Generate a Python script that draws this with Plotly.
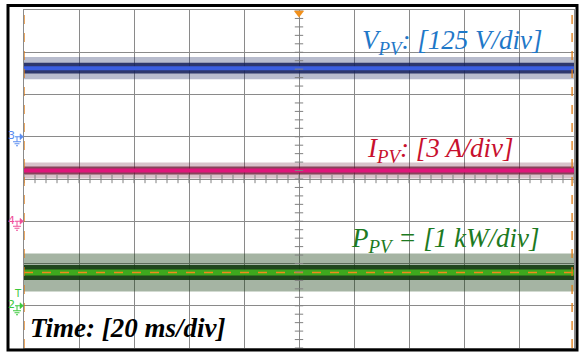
import plotly.graph_objects as go

# ---------------- data ----------------
t_span_ms = [0, 200]          # 10 div x 20 ms/div
ms_per_div = 20
n_ydiv = 8

channels = ["V_PV", "I_PV", "P_PV"]
ch_numbers = ["3", "4", "2"]
scales = [125, 3, 1]              # units per division
units = ["V", "A", "kW"]
offsets_div = [1, -1, -3]         # ground-marker positions (div)
levels = [203, 3.60, 0.787]       # mean values
dense_noise = [16, 0.28, 0.18]    # dense ripple half-width
peak_noise = [33, 0.57, 0.45]     # spike half-width

line_colors = ["#3a5ee0", "#e0157a", "#3ea81e"]
line_widths = [4, 4, 6]
noise_rgba_dense = ["rgba(20,32,90,0.85)", "rgba(100,12,44,0.70)", "rgba(18,58,14,0.90)"]
noise_rgba_peak = ["rgba(20,32,90,0.30)", "rgba(100,12,44,0.25)", "rgba(18,58,14,0.38)"]
text_colors = ["#1f78c8", "#c8102e", "#1d7a22"]
marker_colors = ["#5a8cf0", "#f0509a", "#3cc83c"]

labels = ["<i>V<sub>PV</sub>: [125 V/div]</i>",
          "<i>I<sub>PV</sub>: [3 A/div]</i>",
          "<i>P<sub>PV</sub> = [1 kW/div]</i>"]
label_x_ms = [189.5, 179.0, 188.5]
label_y_div = [3.24, 0.68, -1.45]

time_label = "<b><i>Time: [20 ms/div]</i></b>"

# ---------------- figure ----------------
W, H = 580, 360
ml, mr, mt, mb = 24, 6, 10, 12
pw, ph = W - ml - mr, H - mt - mb
px_per_div_y = ph / n_ydiv

def paper_x(px):
    return (px - ml) / pw

def paper_y(py):
    return (H - mb - py) / ph

fig = go.Figure()

for i, name in enumerate(channels):
    yc = offsets_div[i] + levels[i] / scales[i]
    pk = peak_noise[i] / scales[i]
    dn = dense_noise[i] / scales[i]
    # spike envelope
    fig.add_trace(go.Scatter(x=t_span_ms, y=[yc - pk] * 2, mode="lines",
                             line=dict(width=0), showlegend=False, hoverinfo="skip"))
    fig.add_trace(go.Scatter(x=t_span_ms, y=[yc + pk] * 2, mode="lines",
                             line=dict(width=0), fill="tonexty",
                             fillcolor=noise_rgba_peak[i],
                             showlegend=False, hoverinfo="skip"))
    # dense ripple
    fig.add_trace(go.Scatter(x=t_span_ms, y=[yc - dn] * 2, mode="lines",
                             line=dict(width=0), showlegend=False, hoverinfo="skip"))
    fig.add_trace(go.Scatter(x=t_span_ms, y=[yc + dn] * 2, mode="lines",
                             line=dict(width=0), fill="tonexty",
                             fillcolor=noise_rgba_dense[i],
                             showlegend=False, hoverinfo="skip"))
    # mean trace
    fig.add_trace(go.Scatter(x=t_span_ms, y=[yc] * 2, mode="lines",
                             line=dict(color=line_colors[i], width=line_widths[i]),
                             name=name, showlegend=False, hoverinfo="skip"))
    if name == "P_PV":
        fig.add_trace(go.Scatter(x=t_span_ms, y=[yc] * 2, mode="lines",
                                 line=dict(color="#f08a1c", width=1.5, dash="dash"),
                                 showlegend=False, hoverinfo="skip"))
    fig.add_annotation(x=label_x_ms[i], y=label_y_div[i], text=labels[i],
                       xanchor="right", yanchor="middle", showarrow=False,
                       font=dict(family="Liberation Serif", size=27, color=text_colors[i]))

# centre-axis minor ticks
minor_x = [k * ms_per_div / 5 for k in range(0, 51)]
fig.add_trace(go.Scatter(x=minor_x, y=[0] * len(minor_x), mode="markers",
                         marker=dict(symbol="line-ns", size=6,
                                     line=dict(color="#808080", width=1)),
                         showlegend=False, hoverinfo="skip"))
minor_y = [-4 + k / 5 for k in range(0, 41)]
fig.add_trace(go.Scatter(x=[100] * len(minor_y), y=minor_y, mode="markers",
                         marker=dict(symbol="line-ew", size=6,
                                     line=dict(color="#808080", width=1)),
                         showlegend=False, hoverinfo="skip"))

# cursors
for xc in [0, 199.3]:
    fig.add_trace(go.Scatter(x=[xc, xc], y=[-4, 4], mode="lines",
                             line=dict(color="#e07a10", width=1.3, dash="dash"),
                             showlegend=False, hoverinfo="skip"))
# trigger position marker
fig.add_trace(go.Scatter(x=[100], y=[3.93], mode="markers",
                         marker=dict(symbol="triangle-down", size=9, color="#f0901c"),
                         cliponaxis=False, showlegend=False, hoverinfo="skip"))

# channel ground markers
shapes = []
for i, num in enumerate(ch_numbers):
    y0 = offsets_div[i]
    col = marker_colors[i]
    d = 1 / px_per_div_y
    fig.add_annotation(x=paper_x(12), xref="paper", y=y0 + 1 * d, yref="y",
                       text=num, showarrow=False, xanchor="center", yanchor="middle",
                       font=dict(family="DejaVu Sans", size=11, color=col))
    shapes.append(dict(type="line", xref="paper", yref="y",
                       x0=paper_x(15), x1=paper_x(21), y0=y0, y1=y0,
                       line=dict(color=col, width=1)))
    shapes.append(dict(type="path", xref="paper", yref="y",
                       path=f"M {paper_x(20)},{y0 + 3*d} L {paper_x(23.5)},{y0} L {paper_x(20)},{y0 - 3*d} Z",
                       fillcolor=col, line=dict(color=col, width=0.5)))
    shapes.append(dict(type="line", xref="paper", yref="y",
                       x0=paper_x(17), x1=paper_x(17), y0=y0, y1=y0 - 5 * d,
                       line=dict(color=col, width=1)))
    for j, half in enumerate([4, 2.5, 1]):
        yy = y0 - (5 + 2 * j) * d
        shapes.append(dict(type="line", xref="paper", yref="y",
                           x0=paper_x(17 - half), x1=paper_x(17 + half), y0=yy, y1=yy,
                           line=dict(color=col, width=1)))
    if num == "2":
        fig.add_annotation(x=paper_x(18), xref="paper", y=y0 + 12 * d, yref="y",
                           text="T", showarrow=False, xanchor="center", yanchor="middle",
                           font=dict(family="DejaVu Sans", size=10, color=col))

# outer black frame
shapes.append(dict(type="rect", xref="paper", yref="paper",
                   x0=paper_x(8), x1=paper_x(577), y0=paper_y(350), y1=paper_y(5.5),
                   line=dict(color="black", width=3)))

fig.add_annotation(x=1.5, y=-3.53, text=time_label, xanchor="left", yanchor="middle",
                   showarrow=False,
                   font=dict(family="Liberation Serif", size=27, color="black"))

fig.update_layout(
    width=W, height=H, autosize=False,
    margin=dict(l=ml, r=mr, t=mt, b=mb),
    paper_bgcolor="white", plot_bgcolor="white",
    shapes=shapes,
    xaxis=dict(range=t_span_ms, dtick=ms_per_div, tick0=0, showgrid=True,
               gridcolor="#8a8a8a", gridwidth=1, showticklabels=False, ticks="",
               zeroline=False, showline=True, linecolor="#8a8a8a", mirror=True),
    yaxis=dict(range=[-4, 4], dtick=1, tick0=-4, showgrid=True,
               gridcolor="#8a8a8a", gridwidth=1, showticklabels=False, ticks="",
               zeroline=False, showline=True, linecolor="#8a8a8a", mirror=True),
)

fig.write_html("out.html", config={"displayModeBar": False},
               post_script="document.body.style.margin='0';document.body.style.overflow='hidden';")
